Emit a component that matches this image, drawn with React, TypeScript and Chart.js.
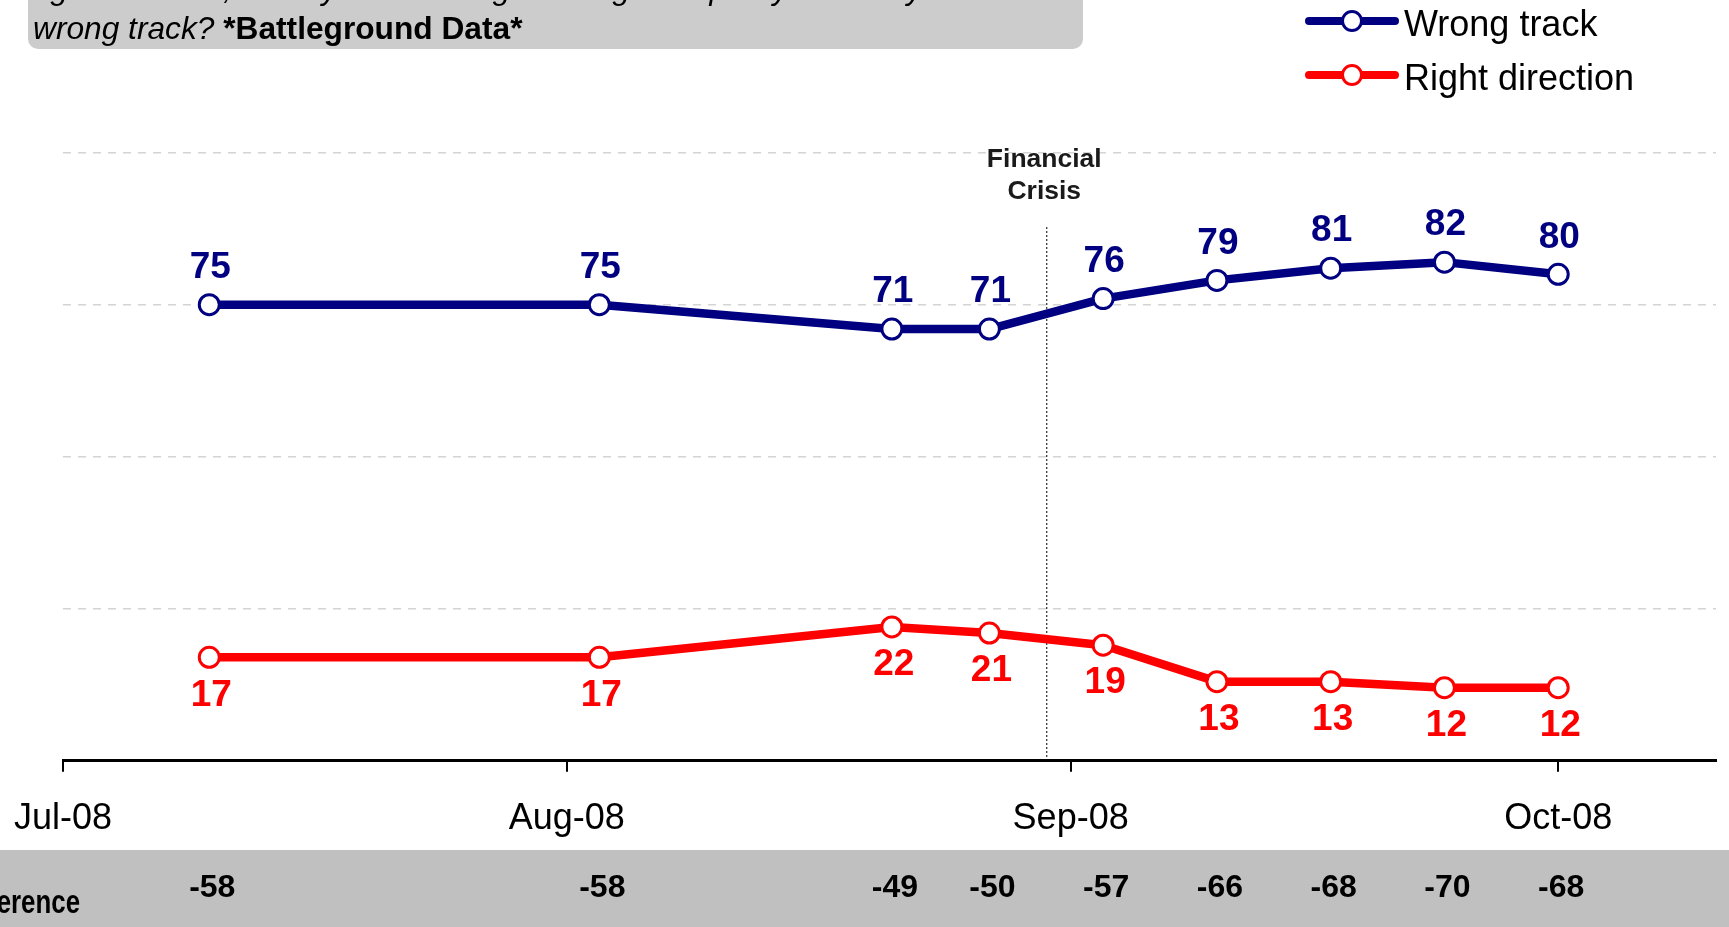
import React, { useEffect, useRef } from "react";
import { Chart, registerables } from "chart.js";

Chart.register(...registerables);

// ---------- data ----------
const surveyDates = [
  "2008-07-10",
  "2008-08-03",
  "2008-08-21",
  "2008-08-27",
  "2008-09-03",
  "2008-09-10",
  "2008-09-17",
  "2008-09-24",
  "2008-10-01",
];
const wrongTrack = [75, 75, 71, 71, 76, 79, 81, 82, 80];
const rightDirection = [17, 17, 22, 21, 19, 13, 13, 12, 12];
const difference = [-58, -58, -49, -50, -57, -66, -68, -70, -68];
const tickDates = ["2008-07-01", "2008-08-01", "2008-09-01", "2008-10-01"];
const tickLabels = ["Jul-08", "Aug-08", "Sep-08", "Oct-08"];
const axisStart = "2008-07-01";
const axisEnd = "2008-10-10T17:00:00Z";
const crisisDate = "2008-08-30T12:00:00Z";
const yGridValues = [0, 25, 50, 75, 100];
const seriesNames = ["Wrong track", "Right direction"];
const questionLine1 =
  "right direction, or do you feel things have gotten pretty seriously off on the";
const questionLine2Italic = "wrong track? ";
const questionLine2Bold = "*Battleground Data*";

// ---------- helpers ----------
const NAVY = "#000080";
const RED = "#FF0000";
const FONT = "'Liberation Sans', Arial, Helvetica, sans-serif";

const dayOf = (s: string) => {
  const d = s.length > 10 ? new Date(s) : new Date(s + "T00:00:00Z");
  return (d.getTime() - new Date(axisStart + "T00:00:00Z").getTime()) / 86400000;
};

const xDays = surveyDates.map(dayOf);
const tickDays = tickDates.map(dayOf);

function text(
  ctx: CanvasRenderingContext2D,
  t: string,
  x: number,
  y: number,
  font: string,
  color: string,
  align: CanvasTextAlign = "center",
  baseline: CanvasTextBaseline = "middle",
  scaleX = 1
) {
  ctx.save();
  ctx.font = font;
  ctx.fillStyle = color;
  ctx.textAlign = align;
  ctx.textBaseline = baseline;
  ctx.translate(x, y);
  ctx.scale(scaleX, 1);
  ctx.fillText(t, 0, 0);
  ctx.restore();
}

const overlayPlugin = {
  id: "overlay",
  beforeDatasetsDraw(chart: any) {
    const ctx: CanvasRenderingContext2D = chart.ctx;
    const xs = chart.scales.x;
    const area = chart.chartArea;
    const cx = xs.getPixelForValue(dayOf(crisisDate));
    ctx.save();
    ctx.strokeStyle = "#000";
    ctx.lineWidth = 1;
    ctx.setLineDash([2, 2]);
    ctx.beginPath();
    ctx.moveTo(cx + 0.5, 227);
    ctx.lineTo(cx + 0.5, area.bottom);
    ctx.stroke();
    ctx.restore();
    text(ctx, "Financial", cx - 2, 159.5, `bold 26.5px ${FONT}`, "#1a1a1a");
    text(ctx, "Crisis", cx - 2, 191.5, `bold 26.5px ${FONT}`, "#1a1a1a");
  },
  afterDraw(chart: any) {
    const ctx: CanvasRenderingContext2D = chart.ctx;
    const W = chart.width;
    const H = chart.height;

    // data labels
    const m0 = chart.getDatasetMeta(0);
    const m1 = chart.getDatasetMeta(1);
    m0.data.forEach((p: any, i: number) => {
      text(ctx, String(wrongTrack[i]), p.x + 1, p.y - 37, `bold 37px ${FONT}`, NAVY);
    });
    m1.data.forEach((p: any, i: number) => {
      text(ctx, String(rightDirection[i]), p.x + 2, p.y + 38, `bold 37px ${FONT}`, RED);
    });

    // bottom band with differences
    ctx.save();
    ctx.fillStyle = "#C0C0C0";
    ctx.fillRect(0, 850, W, H - 850);
    ctx.restore();
    text(ctx, "Difference", 80, 904, `bold 34px ${FONT}`, "#000", "right", "middle", 0.76);
    m0.data.forEach((p: any, i: number) => {
      text(ctx, String(difference[i]), p.x + 3, 888, `bold 32px ${FONT}`, "#000");
    });

    // top question box
    ctx.save();
    ctx.fillStyle = "#CCCCCC";
    ctx.beginPath();
    (ctx as any).roundRect(28, -30, 1055, 79, 10);
    ctx.fill();
    ctx.restore();
    const qFont = 31.7;
    text(ctx, questionLine1, 33, -1.5, `italic ${qFont}px ${FONT}`, "#000", "left", "alphabetic");
    ctx.save();
    ctx.font = `italic ${qFont}px ${FONT}`;
    const w1 = ctx.measureText(questionLine2Italic).width;
    ctx.restore();
    text(ctx, questionLine2Italic, 33, 39, `italic ${qFont}px ${FONT}`, "#000", "left", "alphabetic");
    text(ctx, questionLine2Bold, 33 + w1, 39, `bold ${qFont}px ${FONT}`, "#000", "left", "alphabetic");

    // legend
    const colors = [NAVY, RED];
    const rowsY = [21, 75];
    seriesNames.forEach((name, i) => {
      const y = rowsY[i];
      ctx.save();
      ctx.strokeStyle = colors[i];
      ctx.lineWidth = 8;
      ctx.lineCap = "round";
      ctx.beginPath();
      ctx.moveTo(1309, y);
      ctx.lineTo(1395, y);
      ctx.stroke();
      ctx.beginPath();
      ctx.arc(1352, y, 9.5, 0, Math.PI * 2);
      ctx.fillStyle = "#fff";
      ctx.fill();
      ctx.lineWidth = 3;
      ctx.stroke();
      ctx.restore();
      text(ctx, name, 1404, y + 5, `36px ${FONT}`, "#000", "left", "middle");
    });
  },
};

export default function App() {
  const ref = useRef<HTMLCanvasElement | null>(null);

  useEffect(() => {
    const canvas = ref.current;
    if (!canvas) return;
    const makeDs = (label: string, vals: number[], color: string) => ({
      label,
      data: xDays.map((d, i) => ({ x: d, y: vals[i] })),
      borderColor: color,
      backgroundColor: "#fff",
      borderWidth: 8.5,
      borderJoinStyle: "round" as const,
      borderCapStyle: "round" as const,
      pointRadius: 10,
      pointBorderWidth: 3,
      pointBackgroundColor: "#fff",
      pointBorderColor: color,
      tension: 0,
    });
    const chart = new Chart(canvas, {
      type: "line",
      data: {
        datasets: [
          makeDs(seriesNames[0], wrongTrack, NAVY),
          makeDs(seriesNames[1], rightDirection, RED),
        ],
      },
      options: {
        animation: false,
        responsive: false,
        devicePixelRatio: 1,
        layout: { padding: { left: 63, right: 5.5, top: 152.7, bottom: 0 } },
        plugins: { legend: { display: false }, tooltip: { enabled: false } },
        scales: {
          x: {
            type: "linear",
            min: 0,
            max: dayOf(axisEnd),
            afterBuildTicks: (s: any) => {
              s.ticks = tickDays.map((v) => ({ value: v }));
            },
            afterFit: (s: any) => {
              s.height = 927 - 760.7;
            },
            ticks: {
              autoSkip: false,
              maxRotation: 0,
              padding: 10,
              color: "#000",
              font: { family: FONT, size: 36, lineHeight: 2.06 },
              callback: (v: any) => {
                const idx = tickDays.indexOf(Number(v));
                return idx >= 0 ? tickLabels[idx] : "";
              },
            },
            grid: {
              drawOnChartArea: false,
              drawTicks: true,
              tickLength: 11,
              color: "#000",
              lineWidth: 2,
            },
            border: { display: true, color: "#000", width: 3 },
          },
          y: {
            min: 0,
            max: 100,
            afterBuildTicks: (s: any) => {
              s.ticks = yGridValues.map((v) => ({ value: v }));
            },
            afterFit: (s: any) => {
              s.width = 0;
            },
            ticks: { display: false },
            grid: { color: "#D4D4D4", lineWidth: 1.5, drawTicks: false },
            border: { display: false, dash: [8, 7] },
          },
        },
      },
      plugins: [overlayPlugin],
    } as any);
    return () => chart.destroy();
  }, []);

  return (
    <div
      style={{
        position: "fixed",
        left: 0,
        top: 0,
        width: 1729,
        height: 927,
        background: "#fff",
        overflow: "hidden",
      }}
    >
      <canvas ref={ref} width={1729} height={927} style={{ display: "block" }} />
    </div>
  );
}
